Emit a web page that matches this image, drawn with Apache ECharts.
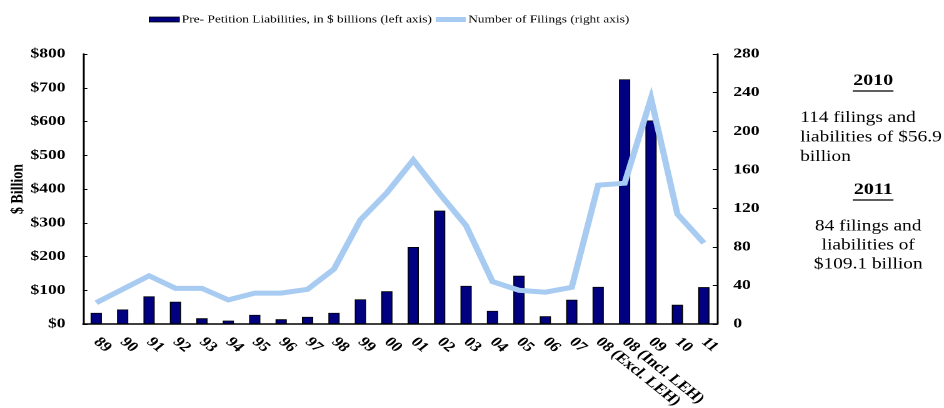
<!DOCTYPE html>
<html>
<head>
<meta charset="utf-8">
<script src="https://cdn.jsdelivr.net/npm/echarts@6/dist/echarts.min.js"></script>
<style>
  html, body { margin: 0; padding: 0; background: #fff; overflow: hidden; }
  /* the chart is laid out on a narrower canvas and widened to 944px, giving the wide lettering */
  #chart { width: 755px; height: 408px; transform: scaleX(1.2503); transform-origin: 0 0; }
</style>
</head>
<body>
<div id="chart"></div>
<script>
// Bankruptcy filings by public companies, 1989-2011
const categories = ['89','90','91','92','93','94','95','96','97','98','99','00','01','02','03','04','05','06','07',
  '08 (Excl. LEH)','08 (Incl. LEH)','09','10','11'];
// Pre-petition liabilities, $ billions (left axis)
const liabilities = [33, 43, 82, 66, 17, 10, 27, 14, 21, 33, 73, 97, 228, 336, 113, 39, 143, 23, 72, 110, 725, 603, 56.9, 109.1];
// Number of filings (right axis)
const filings = [22, 36, 50, 37, 37, 25, 32, 32, 36, 57, 108, 136, 170, 135, 102, 44, 35, 33, 38, 144, 146, 234, 114, 84];
const leftTicks = { min: 0, max: 800, interval: 100 };
const rightTicks = { min: 0, max: 280, interval: 40 };

const serif = '"Liberation Serif", "Times New Roman", serif';
const navy = '#000080';
const skyBlue = '#a8cbf1';
const chart = echarts.init(document.getElementById('chart'), null, { renderer: 'canvas', devicePixelRatio: 2 });

chart.setOption({
  animation: false,
  backgroundColor: '#fff',
  textStyle: { fontFamily: serif },
  legend: {
    top: 9,
    left: 114,
    itemGap: 3,
    itemWidth: 24,
    itemHeight: 5,
    textStyle: { fontFamily: serif, fontSize: 10.7, color: '#000', padding: [0, 0, 0, -3] },
    data: [
      { name: 'Pre- Petition Liabilities, in $ billions (left axis)', icon: 'rect',
        itemStyle: { color: navy, borderColor: '#000', borderWidth: 0.8 } },
      { name: 'Number of Filings (right axis)', icon: 'rect',
        itemStyle: { color: skyBlue, borderWidth: 0 } }
    ]
  },
  grid: { left: 66.4, right: 181.5, top: 54, bottom: 84, containLabel: false, outerBoundsMode: 'none' },
  xAxis: {
    type: 'category',
    data: categories,
    axisLine: { lineStyle: { color: '#000', width: 1.5 } },
    axisTick: { show: false },
    axisLabel: {
      rotate: -45, margin: 16, interval: 0,
      fontFamily: serif, fontWeight: 'bold', fontSize: 14, color: '#000'
    }
  },
  yAxis: [
    {
      type: 'value', min: leftTicks.min, max: leftTicks.max, interval: leftTicks.interval,
      name: '$ Billion', nameLocation: 'middle', nameRotate: 90, nameGap: 45, nameMoveOverlap: false,
      nameTextStyle: { fontFamily: serif, fontWeight: 'bold', fontSize: 14, color: '#000' },
      axisLine: { show: true, lineStyle: { color: '#000', width: 1.5 } },
      axisTick: { show: true, inside: true, length: 3.5, lineStyle: { color: '#000' } },
      splitLine: { show: false },
      axisLabel: {
        margin: 14, fontFamily: serif, fontWeight: 'bold', fontSize: 14, color: '#000',
        formatter: v => '$' + v
      }
    },
    {
      type: 'value', min: rightTicks.min, max: rightTicks.max, interval: rightTicks.interval,
      position: 'right',
      axisLine: { show: true, lineStyle: { color: '#000', width: 1.5 } },
      axisTick: { show: true, inside: true, length: 3.5, lineStyle: { color: '#000' } },
      splitLine: { show: false },
      axisLabel: { margin: 13, fontFamily: serif, fontWeight: 'bold', fontSize: 14, color: '#000' }
    }
  ],
  series: [
    {
      name: 'Pre- Petition Liabilities, in $ billions (left axis)',
      type: 'bar',
      yAxisIndex: 0,
      barWidth: 9,
      data: liabilities,
      itemStyle: { color: navy, borderColor: '#000', borderWidth: 0.8 }
    },
    {
      name: 'Number of Filings (right axis)',
      type: 'line',
      yAxisIndex: 1,
      data: filings,
      symbol: 'none',
      lineStyle: { color: skyBlue, width: 5, join: 'miter' },
      itemStyle: { color: skyBlue }
    }
  ],
  graphic: [
    { type: 'text', x: 698.4, y: 73, style: {
        text: '2010', font: 'bold 16px ' + serif, fill: '#000', align: 'center', verticalAlign: 'top' } },
    { type: 'line', shape: { x1: 682, y1: 91, x2: 714.6, y2: 91 }, style: { stroke: '#000', lineWidth: 1.3 } },
    { type: 'text', x: 640, y: 108, style: {
        text: '114 filings and\nliabilities of $56.9\nbillion', font: '15.5px ' + serif, fill: '#000',
        lineHeight: 19.5, verticalAlign: 'top' } },
    { type: 'text', x: 698.4, y: 182, style: {
        text: '2011', font: 'bold 16px ' + serif, fill: '#000', align: 'center', verticalAlign: 'top' } },
    { type: 'line', shape: { x1: 682, y1: 200, x2: 714.6, y2: 200 }, style: { stroke: '#000', lineWidth: 1.3 } },
    { type: 'text', x: 694.4, y: 217, style: {
        text: '84 filings and\nliabilities of\n$109.1 billion', font: '15.5px ' + serif, fill: '#000',
        lineHeight: 19, align: 'center', verticalAlign: 'top' } }
  ]
});
</script>
</body>
</html>
